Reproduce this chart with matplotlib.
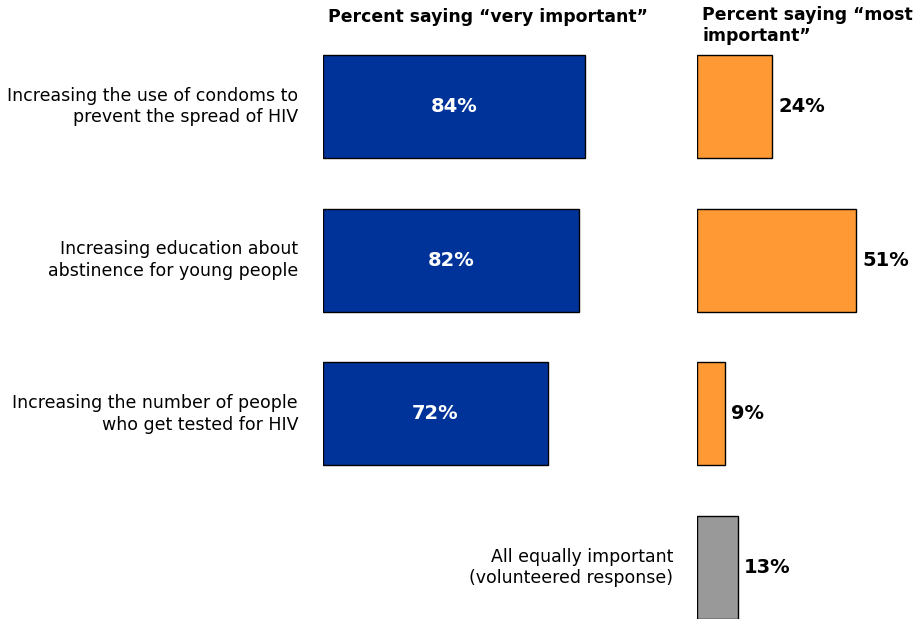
import matplotlib.pyplot as plt

# veriler
categories = ['Increasing the use of condoms to\nprevent the spread of HIV',
              'Increasing education about\nabstinence for young people',
              'Increasing the number of people\nwho get tested for HIV',
              'All equally important\n(volunteered response)']
very_important = [84, 82, 72]
most_important = [24, 51, 9, 13]

blue = '#003399'
orange = '#FF9933'
gray = '#999999'

W, H = 914, 619
fig = plt.figure(figsize=(W / 100, H / 100), dpi=100)

# satir araligi (piksel)
row = 153.7
top = 106.5
ylim = ((H - top) / row, -top / row)
bh = 103 / row

# sol grafik
ax1 = fig.add_axes([323 / W, 0, 312 / W, 1])
ax1.barh(range(len(very_important)), very_important, height=bh, color=blue,
         edgecolor='black', linewidth=1)
for i, v in enumerate(very_important):
    ax1.text(v / 2, i, f'{v}%', color='white', fontsize=14, fontweight='bold',
             ha='center', va='center')
ax1.set_xlim(0, 100)
ax1.set_ylim(*ylim)
ax1.axis('off')

# sag grafik
ax2 = fig.add_axes([697 / W, 0, (W - 697) / W, 1])
colors = [orange] * 3 + [gray]
ax2.barh(range(len(most_important)), most_important, height=bh, color=colors,
         edgecolor='black', linewidth=1)
for i, v in enumerate(most_important):
    ax2.text(v + 2.0, i, f'{v}%', color='black', fontsize=14, fontweight='bold',
             ha='left', va='center')
ax2.set_xlim(0, (W - 697) / 3.12)
ax2.set_ylim(*ylim)
ax2.axis('off')

# kategori etiketleri
for i, c in enumerate(categories):
    x = 298 if i < 3 else 673
    ax1.annotate(c, xy=(0, i), xycoords='data', xytext=(x - 323, 0),
                 textcoords='offset pixels', ha='right', va='center',
                 fontsize=12.5, linespacing=1.25)

fig.text(488 / W, 1 - 17 / H, 'Percent saying \u201cvery important\u201d',
         ha='center', va='center', fontsize=12.4, fontweight='bold')
fig.text(702 / W, 1 - 6 / H, 'Percent saying \u201cmost\nimportant\u201d',
         ha='left', va='top', fontsize=12.4, fontweight='bold', linespacing=1.2)

fig.savefig('out.png', dpi=100)
